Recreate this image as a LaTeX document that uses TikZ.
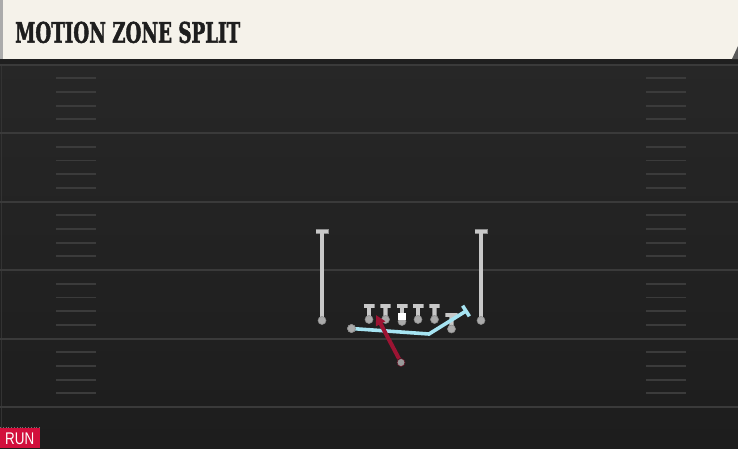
\documentclass[tikz,border=0pt]{standalone}
\usepackage{fontspec}
\newfontfamily\titlefont{DejaVu Serif Condensed}[BoldFeatures={FakeBold=2}]
\newfontfamily\labelfont{Liberation Sans}
\usetikzlibrary{arrows.meta,calc}
\definecolor{fieldtop}{HTML}{272727}
\definecolor{fieldbot}{HTML}{1D1D1D}
\definecolor{yardc}{HTML}{3A3A3A}
\definecolor{hashc}{HTML}{3B3B3B}
\definecolor{cream}{HTML}{F5F2EA}
\definecolor{titlec}{HTML}{1E1E1E}
\definecolor{playerc}{HTML}{C8C8C8}
\definecolor{playeredge}{HTML}{8C8C8C}
\definecolor{motionc}{HTML}{A6E4F2}
\definecolor{runc}{HTML}{9C1433}
\definecolor{runlabel}{HTML}{D20F3C}
\newcommand{\playerT}[5]{% name, x, bar y, dot y, bar half width
  \coordinate (#1top) at (#2,#3);
  \coordinate (#1pos) at (#2,#4);
  \draw[outerln] (#1top) -- (#1pos);
  \draw[outerln] ($(#1top)+(-#5,0)$) -- ($(#1top)+(#5,0)$);
  \draw[innerln] (#1top) -- (#1pos);
  \draw[innerln] ($(#1top)+(-#5+0.8,0)$) -- ($(#1top)+(#5-0.8,0)$);
  \node[pdot] (#1) at (#1pos) {};
}
\begin{document}
\begin{tikzpicture}[x=1pt,y=-1pt,
  yard/.style={draw=yardc, line width=2pt},
  hashmark/.style={draw=hashc, line width=1.8pt},
  pdot/.style={circle, fill=playerc!85!black, draw=playeredge, line width=0.6pt, inner sep=0pt, minimum size=8pt},
  outerln/.style={draw=playeredge, line width=4.8pt},
  innerln/.style={draw=playerc, line width=3.2pt},
  motion/.style={draw=motionc, line width=3.6pt},
  runpath/.style={draw=runc, line width=4pt, -{Triangle[length=10pt,width=10pt]}},
]
\useasboundingbox (0,0) rectangle (738,448);
% field
\shade[top color=fieldtop, bottom color=fieldbot] (0,59) rectangle (738,448);
\draw[draw=black!80!white, line width=1pt] (1,59) -- (1,448);
\foreach \k in {0,...,5} {
  \draw[yard] (0,{64.5+68.5*\k}) -- (738,{64.5+68.5*\k});
}
\foreach \k in {0,...,4} {
  \foreach \j in {1,...,4} {
    \draw[hashmark] (56,{64.5+68.5*\k+13.7*\j}) -- (96,{64.5+68.5*\k+13.7*\j});
    \draw[hashmark] (646,{64.5+68.5*\k+13.7*\j}) -- (686,{64.5+68.5*\k+13.7*\j});
  }
}
% header
\fill[black!88!white] (0,59) rectangle (738,64);
\fill[cream] (0,0) rectangle (738,59);
\fill[black!33!white] (0,0) rectangle (3,59);
\fill[black!65!white] (732,59) -- (738,46) -- (738,59) -- cycle;
\node[anchor=base west, inner sep=0pt, text=titlec] (title) at (15,42.7)
  {\resizebox{225pt}{21pt}{\titlefont\bfseries MOTION ZONE SPLIT}};
% receivers
\playerT{wrl}{322}{231.5}{320.5}{6.5}
\playerT{wrr}{481}{231.5}{320.5}{6.5}
% line
\playerT{lt}{369}{306}{319.5}{5.5}
\playerT{lg}{385.5}{306}{319.5}{5.5}
\playerT{c}{402}{306}{321.5}{5.5}
\playerT{rg}{418}{306}{319.5}{5.5}
\playerT{rt}{434.5}{306}{319.5}{5.5}
\fill[white] (398.3,313) rectangle (405.7,320);
\playerT{te}{451.5}{315}{329}{6.5}
% motion path
\coordinate (mbend) at (429,334);
\coordinate (mend) at (466,311);
\node[pdot] (mo) at (351.5,328.5) {};
\draw[motion, line join=miter] (mo.center) -- (mbend) -- (mend);
\draw[motion] ($(mend)+(-3.4,-5.3)$) -- ($(mend)+(3.4,5.3)$);
\node[pdot] at (mo) {};
% run path
\node[pdot, fill=black!40!white, draw=runc!60!black] (rb) at (401,362.5) {};
\coordinate (rend) at (376,315);
\draw[runpath] (rb) -- (rend);
% RUN label
\draw[black!55!white, dotted, line width=0.8pt] (0,427.3) -- (40,427.3);
\fill[runlabel] (0,428) rectangle (40,448);
\node[anchor=base west, inner sep=0pt, text=white] (runtxt) at (5,444.3)
  {\resizebox{29pt}{11.6pt}{\labelfont RUN}};
\end{tikzpicture}
\end{document}
